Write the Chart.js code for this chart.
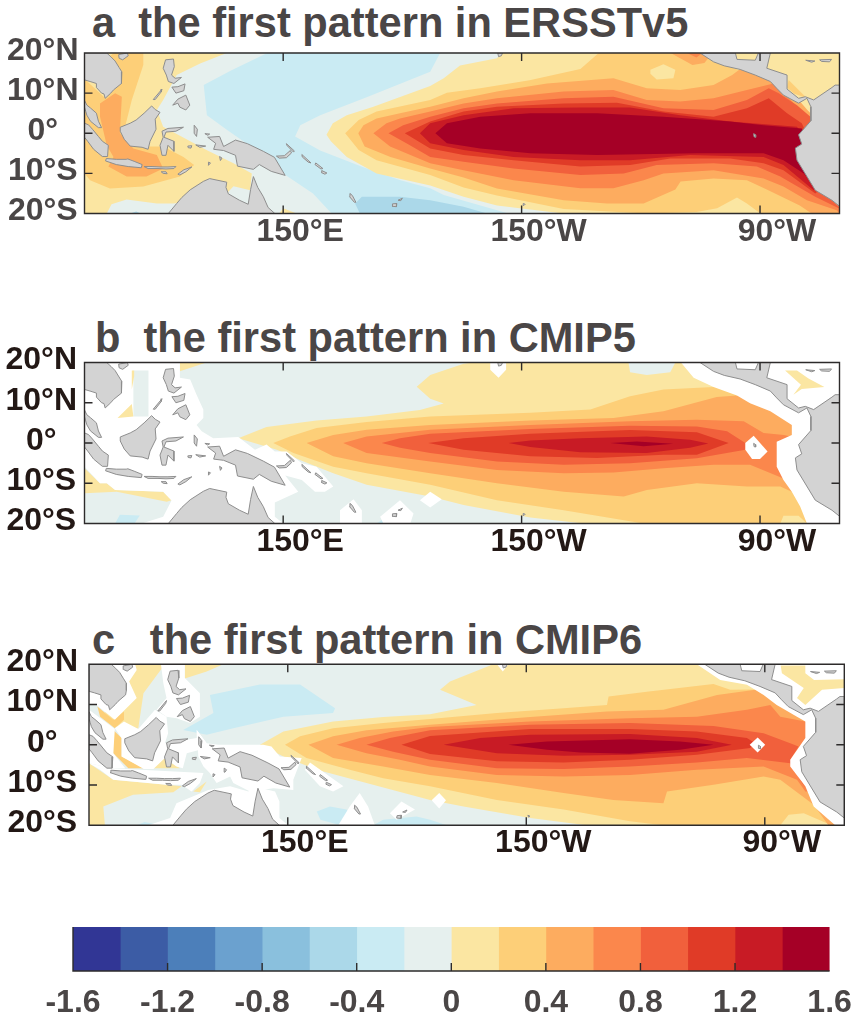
<!DOCTYPE html>
<html><head><meta charset="utf-8">
<style>
html,body{margin:0;padding:0;background:#fff;width:859px;height:1016px;overflow:hidden}
canvas{position:absolute;left:0}
.t{position:absolute;font:bold 41.6px/1 "Liberation Sans",Arial,sans-serif;color:#4a4646;white-space:pre}
</style>
<script src="https://cdn.jsdelivr.net/npm/chart.js@4"></script>
</head><body>
<div class="t" style="left:92px;top:2px">a  the first pattern in ERSSTv5</div>
<div class="t" style="left:95px;top:317px">b  the first pattern in CMIP5</div>
<div class="t" style="left:92px;top:619px">c   the first pattern in CMIP6</div>
<canvas id="ca" width="859" height="250" style="top:0"></canvas>
<canvas id="cb" width="859" height="250" style="top:310px"></canvas>
<canvas id="cc" width="859" height="250" style="top:610px"></canvas>
<canvas id="cbar" width="859" height="116" style="top:900px"></canvas>
<script>
// ---------- scales / ticks ----------
const lonTicks=[150,210,270];
const latTicks=[20,10,0,-10,-20];
const barEdges=[-1.6,-1.4,-1.2,-1,-0.8,-0.6,-0.4,-0.2,0,0.2,0.4,0.6,0.8,1,1.2,1.4,1.6];
const barColors=['#313695','#3c5ca5','#4c7fba','#6ba1cf','#8ac0dd','#abd8e9','#caebf3','#e6f0ee','#fbe6a2','#fdcf78','#fdac5f','#fb874c','#f1603c','#e03b27','#c81b25','#a50026'];
const [cM4,cM2,cM0,c0,c2,c4,c6,c8,c10,c12,c14]=barColors.slice(5);
const domain=[[100,20],[290,20],[290,-20],[100,-20]];

// ---------- land (lon, lat) ----------
const landIndochina=[[100,20],[105.6,20],[106.7,19],[107.7,18],[108.7,16.4],[109.4,15.3],[109.4,13.5],[109.2,12.4],[107.3,10.8],[106.6,10],[105.2,8.7],[104.9,9.8],[104.3,10],[103,11.4],[103,12.4],[101.4,12.9],[100,13.3]];
const landHainan=[[108.6,19.6],[110.8,20],[111,19.3],[109.6,18.3],[108.7,18.7]];
const landMalay=[[100,8.2],[100.6,7],[101.5,6.3],[103,5],[103.5,3],[104.3,1.4],[103.5,1.4],[101.5,3],[100.6,4.5],[100.3,5.5],[100,6.5]];
const landSumatra=[[100,2.5],[101,2.1],[102,1],[103.5,-0.8],[104.5,-2],[106,-3],[105.8,-5.8],[104.5,-5.8],[102.3,-4],[100.8,-2],[100,-1]];
const landJava=[[105.5,-6.3],[108,-6.5],[110.5,-6.5],[110.9,-6.4],[112.5,-7],[114.5,-7.8],[114.3,-8.6],[111,-8.3],[108,-7.8],[105.3,-6.9]];
const landLesser=[[115,-8.3],[117,-8.3],[119,-8.4],[121,-8.4],[123,-8.3],[122.5,-8.8],[120.5,-8.9],[118.5,-8.8],[116,-8.8]];
const landSumba=[[119.3,-9.6],[120.5,-9.6],[120.8,-10.1],[119.8,-10]];
const landTimor=[[123.5,-10.2],[125,-9.1],[127,-8.4],[125.5,-9.6],[124,-10.4]];
const landBorneo=[[109,1.5],[111.5,2.5],[113,3.3],[115,5],[116.9,6.8],[117.8,5.9],[119,5.2],[117.8,3.5],[118,1],[116.5,-2],[116,-4],[114.5,-3.5],[111.5,-3.2],[110,-1.5],[109,0.5]];
const landSulawesi=[[119.5,0.5],[121,1.2],[124.9,1.5],[123,0.5],[120.5,0.3],[120,-1],[122.5,-2],[122.5,-4.5],[121,-3],[120.5,-5.5],[119.5,-5.5],[119,-3],[119.8,-1]];
const landLuzon=[[120.4,18.3],[122.4,18.5],[122.6,16.6],[121.9,14.5],[122.8,13.7],[124.4,13.9],[122.5,12.4],[121.1,12.9],[120.6,14.5],[119.8,16.2]];
const landMindanao=[[122.2,7],[123.5,8.5],[125.5,9.5],[126.5,7],[125.5,5.8],[124,6.5],[123.5,7.5]];
const landVisayas=[[122,11.5],[123,10],[125,10.6],[125.3,12.3],[123.5,11.6]];
const landPalawan=[[117.3,8.4],[119.5,11],[119.3,10.3],[117.8,8.4]];
const landHalmahera=[[127.6,2],[128.4,1],[128.2,-0.8],[127.6,0]];
const landSeram=[[128,-2.9],[130.5,-3.2],[129,-3.5]];
const landBuru=[[126,-3.2],[127,-3.1],[126.8,-3.7],[126.1,-3.6]];
const landWaigeo=[[130.3,-0.1],[131.5,-0.2],[131,-0.5]];
const landTanimbar=[[131.2,-7.2],[131.7,-7.4],[131.2,-8]];
const landAru=[[134,-5.8],[134.6,-6.2],[134.2,-6.8]];
const landGuinea=[[131,-1],[134,-0.8],[135,-3.3],[138,-1.7],[141,-2.6],[145,-4.5],[147.8,-6],[150.5,-10.5],[147,-9.5],[144,-7.8],[142.5,-9],[138.5,-8.2],[138,-5.5],[135,-4.3],[132.5,-4],[133,-2.5]];
const landBritain=[[148.3,-5.7],[150.3,-5.6],[151.8,-4.3],[152.1,-4.9],[150.8,-6.1],[149,-6.2]];
const landIreland=[[150.8,-2.6],[152.8,-4.4],[152.6,-4.7],[151,-3.1]];
const landSolomon1=[[154.7,-5.3],[157,-7.4],[156.3,-7.2],[154.8,-5.9]];
const landSolomon2=[[158.2,-7.4],[160,-8.8],[159.5,-8.9],[158,-7.8]];
const landSolomon3=[[159.7,-9.3],[161,-9.9],[160.5,-10.2],[159.6,-9.8]];
const landVanuatu=[[166.8,-15],[167.4,-15.5],[168.3,-17.2],[167.9,-17.2],[166.7,-15.8]];
const landFiji=[[177.5,-17.6],[178.6,-17.5],[178.5,-18.3],[177.4,-18.2]];
const landFiji2=[[178.9,-16.7],[180,-16.2],[179.6,-16.8]];
const landAustralia=[[121.1,-20],[123.2,-17.5],[124.5,-16],[126.6,-14.1],[129.9,-12],[131.5,-11.3],[135.8,-12.2],[135.6,-13.5],[136.2,-15.1],[139,-16.7],[141.2,-17.7],[141.8,-14],[142.5,-10.8],[143.6,-13.5],[145,-15.8],[146.2,-18.5],[147.9,-20]];
const landAmericas=[[254.9,20],[258.3,17.8],[261,16.8],[265,15.9],[268.8,14.5],[272.6,12.9],[274.2,11.2],[275.9,9.5],[279.7,7.5],[281.8,8.7],[282.8,6.6],[282.8,3.1],[279.7,-0.4],[280.5,-2.7],[278.9,-3.7],[279.3,-6.7],[283.9,-14.2],[288.1,-16.7],[290,-18.2],[290,12],[288.9,12],[288.1,11.4],[283.5,8.3],[281.4,9.1],[279.7,8.7],[276.8,11],[276.8,14.5],[271.7,16.2],[272.6,20],[269.6,20],[268.8,18.2],[264.2,18.4],[263.8,20]];
const landCuba=[[281.5,18.2],[283.8,18],[283,17.7]];
const landHispaniola=[[285,18.3],[288,18.4],[287.5,17.8],[285.5,17.9]];
const landGalapagos=[[268.4,-0.1],[268.9,-0.4],[268.9,-1],[268.5,-0.9]];
const landHawaii=[[204,20],[205.2,20],[204.9,19.3],[204.2,19.1]];
const landTahiti=[[210.4,-17.5],[210.9,-17.7],[210.6,-18]];
const landAll=[landIndochina,landHainan,landMalay,landSumatra,landJava,landLesser,landSumba,landTimor,landBorneo,landSulawesi,landLuzon,landMindanao,landVisayas,landPalawan,landHalmahera,landSeram,landBuru,landWaigeo,landTanimbar,landAru,landGuinea,landBritain,landIreland,landSolomon1,landSolomon2,landSolomon3,landVanuatu,landFiji,landFiji2,landAustralia,landAmericas,landCuba,landHispaniola,landGalapagos,landHawaii,landTahiti];

// ---------- panel a: ERSSTv5 contours (lon, lat) ----------
const aM2=[[146,20],[137,15.7],[130,12],[130.8,4.5],[135.9,0.8],[144.3,-5],[150,-10],[157.5,-15],[162.2,-20],[206.7,-20],[197.9,-17.5],[190.4,-15.4],[187,-13.7],[179.5,-11.7],[170,-8.4],[159.3,-4.3],[153,-0.8],[154.3,2],[159.3,4.5],[171,9],[187,15.3],[189.5,20]];
const aM4a=[[168.1,-17.5],[169.8,-15.8],[179.4,-15.8],[187,-16.7],[195.4,-18.3],[201.3,-20],[169.3,-20]];
const aM4b=[[111.5,-20],[113,-19.5],[114.2,-20]];
const aY_west=[[100,20],[135.8,20],[129.1,17.4],[123.2,14.5],[119.8,8.3],[118.2,5.8],[119.8,1.6],[124.5,-0.9],[130.7,-4.2],[137.5,-7.5],[142.1,-10],[141.7,-14.2],[137.5,-13.2],[136.2,-14.6],[135.8,-16.7],[130.7,-16.7],[122.3,-17.5],[118.2,-17.5],[110.6,-16.5],[106.8,-17.7],[105.6,-20],[100,-20]];
const aY_aus=[[150,-18.7],[153.4,-20],[149,-20]];
const aY=[[160.9,-0.4],[162.5,2.5],[166,4.5],[172.7,6.6],[187,11.8],[190.4,13.7],[194.5,16.9],[203.8,18.7],[205,20],[290,20],[290,-20],[220.5,-20],[203.8,-18],[195.4,-15.8],[187,-13],[173.5,-10],[166,-5.9],[162,-2]];
const aL2_west=[[107.3,20],[114.8,20],[114.8,17],[111.9,8.3],[109.8,0],[112.3,-3.3],[119.8,-3.3],[124.9,-5.9],[127.6,-7.9],[124,-10.8],[114.8,-13.3],[106.4,-13.8],[101.4,-11.7],[100,-10],[100,13.5],[105,9],[105,18]];
const aL2=[[165.6,0],[169,3.3],[173.5,5.4],[187,8.3],[191.2,10.1],[199.6,11.2],[212,13.2],[224.8,16],[229.4,20],[255,20],[265,15.5],[274,10],[283,5],[288,-5],[290,-20],[270.1,-20],[266.7,-17.5],[264.2,-16],[259.2,-18.7],[254,-19.6],[241.5,-20],[220.6,-18.9],[203.8,-15.5],[195.4,-13.5],[187,-10.4],[173.5,-6.7],[169,-4.2]];
const aL2_carib=[[277.2,13.3],[281.8,8.7],[278.5,9.9],[276.8,11.4]];
const aY_patch=[[242.4,15.8],[245.7,17.2],[248.7,15.8],[248.2,13.7],[244,13.4],[242.4,14.8]];
const aL4_west=[[107.7,10],[109.4,9.1],[108.9,0],[112.3,-3.8],[118.2,-5.4],[119.8,-8.8],[115.6,-10.8],[110.6,-10.8],[106,-8.3],[107.3,-5.9],[105.6,-3],[103.9,4.1],[103.9,7.4]];
const aL4=[[168.9,0],[170.2,2],[173.5,3.7],[179.4,5],[187,6.6],[195.4,8.7],[203.8,10.4],[216.4,12.4],[233.1,13.7],[241.5,11.2],[249.9,10.8],[258.3,12],[263,14.5],[265,16],[272,13.5],[280,8],[287,0],[290,-20],[283,-20],[280,-18],[271.7,-14],[266.7,-11.7],[258.3,-11.3],[250,-12],[248.7,-14],[240.7,-17.5],[231.5,-17.5],[220.6,-16.7],[203.8,-13.8],[195.4,-11],[187,-8.8],[177,-5.9],[170.5,-3.3]];
const aL4_top=[[247.5,20],[253,17],[256,17.5],[258,20]];
const aL6_top=[[251.6,20],[254,18.9],[255.5,20]];
const aL6=[[172.7,0],[176,2.5],[179.4,3.7],[187,5.4],[195.4,7.4],[203.8,8.7],[220.6,10.4],[233.1,10.8],[241.5,8.3],[249.9,7.9],[258.3,8.7],[266.7,10.8],[273.4,12.4],[278,8],[285,0],[290,-18],[290,-20],[289.3,-19.2],[281.8,-16.7],[275.9,-13.3],[270.9,-11.3],[258.3,-9.2],[245.7,-10],[240.7,-11.7],[233.1,-13.7],[224.8,-13.7],[208,-11.7],[195.4,-9.2],[187,-7.5],[176.9,-3.3]];
const aL8=[[176.5,0],[180.2,2],[187,4.1],[195.4,6.2],[203.8,7.4],[220.6,8.7],[233.1,9.1],[245.7,6.2],[258.3,5.8],[266.7,8.3],[272.2,11.2],[274.7,10],[279.3,7],[284,3],[285,-14],[290,-18.5],[289.8,-18.7],[283.9,-15.8],[275.1,-10.8],[269.2,-8.3],[258.3,-7.5],[244,-7.9],[235.7,-10],[224.8,-10.4],[208,-8.8],[195.4,-7.1],[187,-5.9],[181.9,-3]];
const aL10=[[180.6,0],[187,2.9],[195.4,5.4],[203.8,6.6],[220.6,7.4],[234,7.6],[245.7,5.4],[258.3,4.1],[266.7,6.2],[272.2,8.7],[276.8,5],[280.5,2.5],[284,-5],[284.5,-14.5],[283.9,-15],[275.9,-9.2],[270.9,-7.5],[262.5,-6.3],[247.4,-6.3],[237.3,-7.9],[224.8,-8.3],[208,-6.7],[195.4,-5.4],[187,-3.8]];
const aL12=[[184.4,0],[187,2.5],[195.4,4.5],[208,6.2],[224.8,6.4],[237.3,6.4],[249.9,4.5],[262.5,2.9],[279.3,1.6],[284,-5],[284,-14],[283.5,-14.2],[275.9,-7.9],[270.9,-5.9],[252.4,-5.4],[237.3,-6.7],[224.8,-6.7],[208,-5.9],[195.4,-4.2],[187,-2.5]];
const aL14=[[188.3,0],[191.2,2.5],[199.6,4.1],[212.2,5],[229,5],[245.7,4.1],[262.5,2.9],[270.9,2],[280.5,1.2],[284,-5],[284,-14.5],[283.5,-12.9],[281,-10],[275.9,-6.7],[270.9,-5],[254.1,-5],[229,-5.4],[212.2,-5],[199.6,-3.8],[191.2,-2.5]];

// ---------- panel b: CMIP5 contours ----------
const bY=[[138.7,1.2],[145.8,4],[158.4,5.6],[171,6.6],[184.4,8.2],[190.4,9.8],[187,11],[183.6,14],[187,16.9],[195.4,19.7],[197.9,20],[290,20],[290,-20],[225.6,-20],[212.2,-18.5],[195.4,-15.4],[187,-13.3],[171,-10.4],[162.6,-7.5],[154.2,-4.2],[148.4,-1.7]];
const bM0_top=[[236.9,20],[237.3,17.6],[241.5,16.9],[247.4,17.6],[248.7,20]];
const bL2=[[147.5,0],[151.7,1.6],[158.4,3.7],[171,5.2],[187,6.6],[212.2,7.5],[227.3,8.3],[237.3,11.6],[245.7,13.3],[258.3,13.9],[290,14],[290,-20],[281.8,-20],[279.7,-18.1],[275.9,-18.1],[275.1,-20],[240.7,-20],[220.6,-16.7],[203.8,-14.2],[187,-10.4],[171,-7.5],[162.6,-5.9],[152.6,-2.5]];
const bL4=[[155.9,0],[162.6,2],[171,3.3],[187,4.5],[212.2,5.6],[233.1,6.2],[245.7,7.9],[259.1,11.4],[264.2,11.8],[285,12],[290,-12],[278,-12.1],[275.1,-10.8],[266.7,-10.8],[254.1,-10],[241.5,-11.7],[235.7,-13.3],[220.6,-12.1],[203.8,-10],[187,-7.5],[171,-5],[162.6,-3.3]];
const bL6=[[165.1,0],[171,1.6],[187,3.3],[212.2,4.5],[237.3,5.4],[254.1,5.8],[265.9,5.4],[270.9,2.5],[276,2],[285,0],[285,-9],[275.9,-8.8],[267.5,-5.4],[258.3,-5.4],[245.7,-6.3],[233.1,-7.3],[220.6,-7.5],[203.8,-6.7],[187,-4.6],[171,-2.5]];
const bL8=[[174.8,0],[179.4,1.2],[187,2.3],[212.2,3.5],[237.3,4.3],[254.1,4.1],[261.7,2.9],[266.3,0],[266.3,-1.7],[254.1,-3.8],[237.3,-5],[220.6,-5.4],[203.8,-4.6],[187,-2.5],[179.4,-1.2]];
const bL10=[[186.5,0],[195.4,1.2],[212.2,2.3],[237.3,3.2],[254.1,2.7],[262.1,0],[254.1,-2.9],[245.7,-2.9],[229,-3.7],[212.2,-3.3],[195.4,-1.7]];
const bL12=[[206.7,0],[212.2,0.6],[224.8,1.2],[241.5,1.6],[252.4,0.8],[257,-0.1],[252.4,-1.2],[241.5,-2.5],[224.8,-2.3],[212.2,-1]];
const bL14=[[232.3,0],[239,0.4],[248.2,-0.2],[240.7,-0.8]];
const bM2a=[[107.7,-20],[108.9,-17.8],[113.9,-18],[112.6,-20]];
const bM2b=[[173.5,-20],[175,-19],[176,-20]];
const bY_top=[[124,20],[130.7,20],[124,17.8]];
const bY_sw=[[100,-6.3],[100,-12.5],[108.1,-12.1],[120.7,-14.6],[121.9,-14.2],[119.8,-12.1],[107.7,-11.7],[105.6,-10],[103.9,-10]];
const bMaskWest=[[100,20],[124,20],[124,16.2],[126.6,15.8],[128.2,12],[129.9,8.3],[129.9,6.2],[128.2,4.5],[129.5,2.9],[132.4,1.2],[138.7,1.5],[142.9,-1.7],[145.8,-0.4],[147.9,-2.1],[150.9,-2.1],[154.7,-5],[158.4,-5.9],[162.6,-10.8],[160.5,-12.1],[158,-12.1],[154.7,-9.2],[150.5,-8.1],[153.8,-12.1],[147.9,-14.8],[147.9,-18.3],[150,-20],[114.4,-20],[119.8,-18.3],[121.9,-14.3],[119.8,-12.1],[107.7,-11.7],[105.6,-10],[103.9,-10],[100,-5.9]];
const bMaskVanuatu=[[164.3,-16.7],[167.7,-14],[169.8,-16.7],[169.8,-20],[164.3,-20]];
const bMaskFiji=[[174.4,-18.3],[179.4,-14.2],[182.8,-17.5],[182,-20],[175.2,-20]];
const bMaskSamoa=[[184.4,-14.2],[187,-12.1],[189.9,-14],[187,-16]];
const bMaskHawaii=[[202.1,20],[206.1,20],[206.1,18.2],[204.2,16.2],[202.1,18.2]];
const bMaskGalapagos=[[266.3,0],[268.4,1.8],[271.9,-2.1],[270,-4],[268,-4],[266.3,-1.7]];
const bMaskEast=[[250.1,20],[253.3,16.2],[258.3,13.9],[264.2,11.8],[267.5,9.9],[272.6,7.9],[278,4.5],[278,2],[274.2,0.3],[274.2,-5.9],[275.9,-9.2],[278,-12.1],[280.1,-15.8],[281.8,-20],[290,-20],[290,20]];
const bAfterE6=[[112.3,18],[116.1,18],[116.1,6.6],[112.3,6.6]];
const bAfterY1=[[111.9,18],[112.5,18],[112.5,16.6],[111.9,13.3]];
const bAfterY2=[[106,4],[111.9,9.7],[112.3,6.6],[108.3,6.2]];
const bAfterCarib=[[276.3,18],[279.3,18],[282.2,16],[286.2,13.9],[280.5,13.4],[278.4,12],[280.3,14.5]];

// ---------- panel c: CMIP6 contours ----------
const cMblue=[[130.4,12.4],[143,15],[153.1,15],[161.9,9.1],[161.4,7.9],[148.9,7],[136.3,4.1],[129.6,2.5],[123.7,3.7],[131.3,7.9]];
const cMb1=[[157.3,-16.6],[160.6,-15.3],[164.8,-16.1],[166.5,-19.5],[163.3,-20],[158.2,-18.6]];
const cMb2=[[171.5,-20],[174,-18.6],[182.4,-17.8],[185.8,-18.6],[190,-20]];
const cMb3=[[112,-20],[114,-19.2],[117,-19.8]];
const cY=[[143,0],[148.9,3.3],[161.4,5.8],[174,6.9],[185.8,7.6],[197.5,9.9],[188.3,13.7],[190.8,15.7],[200.9,19.7],[201.3,20],[290,20],[290,-20],[225.2,-20],[211,-18.2],[194.2,-15.3],[185.8,-13.7],[169.8,-9.5],[157.3,-6.2],[148.9,-2.9]];
const cL2=[[149.3,0],[153.1,2.1],[161.4,4.1],[174,5.4],[185.8,6.4],[202.6,7.9],[219.4,9.1],[230.3,9.9],[230.7,12],[240.3,13.2],[257.1,15.1],[261.3,13.7],[290,14],[290,-20],[285.6,-19.5],[279.8,-17],[276,-17.4],[273.9,-20],[244.5,-20],[236.1,-19],[219.4,-16.1],[202.6,-13.7],[185.8,-10.3],[174,-8.3],[165.6,-6.2],[154.7,-3.3]];
const cL4=[[155.2,0],[161.4,2.1],[169.8,3.6],[185.8,5],[211,6.9],[230.3,8.3],[244.5,8.7],[258,12.4],[267.6,13.7],[290,14],[290,-20],[286,-20],[282.3,-14.9],[273.9,-8.7],[269.7,-7.9],[257.1,-9.9],[245.4,-11.6],[244.5,-14.5],[231.9,-13.7],[219.4,-12],[202.6,-9.5],[185.8,-7.5],[174,-5.4],[161.4,-3.3]];
const cL6=[[162.3,0],[168.1,1.7],[176.5,3.3],[185.8,4.4],[211,5.8],[236.1,6.6],[252.9,7],[265.5,8.7],[271.4,9.9],[273.9,7],[280.2,5.8],[285,0],[285,-12],[280.2,-11.6],[278.1,-8.7],[269.7,-5.4],[252.9,-6.2],[236.1,-7.5],[219.4,-7.9],[202.6,-7.5],[185.8,-5.4],[178.2,-3.7],[169.8,-2.1]];
const cL8=[[169.8,0],[175.7,1.7],[185.8,3.6],[211,5],[236.1,5.4],[257.1,4.7],[269.7,2.9],[276.4,0.4],[278.5,-0.4],[276.4,-3.7],[280.2,-10.8],[276.4,-4.6],[265.5,-3.3],[252.9,-4.4],[236.1,-5.4],[219.4,-6],[202.6,-5.8],[185.8,-3.7],[176.5,-1.7]];
const cL10=[[178.6,0],[185.8,2.2],[211,3.9],[236.1,3.9],[252.9,3.3],[265.5,1.7],[267.6,0.4],[266.3,-0.8],[252.9,-2.5],[236.1,-3.7],[219.4,-4.4],[202.6,-4.1],[185.8,-2.3]];
const cL12=[[189.2,0],[198.4,1.7],[211,2.5],[236.1,2.7],[252.9,1.7],[261.7,0],[252.9,-1.7],[236.1,-2.5],[219.4,-2.7],[202.6,-2.1]];
const cL14=[[205.5,0],[215.2,0.8],[236.1,1.4],[248.7,0.8],[257.1,0],[248.7,-1.2],[236.1,-2.2],[223.6,-1.9],[215.2,-1.2]];
const cY_w1=[[111.1,20],[119.1,20],[113.7,12.8],[112.4,4.1],[108,3],[106,6],[104,8],[109,12]];
const cL2_a=[[102.1,9.5],[106.1,6.2],[108.8,8.3],[108.8,6.2],[106.5,4.1],[102.8,7]];
const cL2_b=[[106.1,3.7],[108.2,1.7],[108.2,-2.9],[113.8,-5.8],[109.9,-5.8],[106.1,-2.1]];
const cY_small=[[116.2,-5.8],[118.7,-3.3],[122.9,-5.8]];
const cY_sw=[[100,-4.6],[106.1,-8.7],[119.5,-9.9],[123.3,-10.3],[121.2,-11.8],[111.1,-12.4],[103.6,-15.3],[104,-20],[100,-20]];
const cY_timor=[[126.2,-11.6],[129.6,-9.1],[127.9,-11.8]];
const cY_top=[[124.1,20],[133.8,20],[129.6,18.2],[124.1,16.5]];
const cMask1=[[100,20],[111.6,20],[112,18.6],[110.1,15.7],[112,11.6],[106.5,6.2],[101.9,9.9],[100,9.9]];
const cMask2=[[100,8.7],[106.5,3.9],[106.1,-2.1],[109.1,-5.8],[105.7,-5.8],[100,-4.6]];
const cMask3=[[108.8,5.8],[112.4,3.9],[116.6,8.7],[119.5,7],[119.9,2.9],[119.1,0.4],[127.1,1.7],[127.1,3.7],[129.6,0.4],[127.9,-1.2],[124.6,-2.1],[123.6,-5.8],[122,-5.4],[119.1,-3.3],[116.2,-6],[113.8,-6],[108.2,-2.9],[108.2,1.7],[106.5,4.1]];
const cMask4=[[118.1,20],[124.1,19.9],[124.1,16.6],[127.9,12.8],[127.9,7],[125.4,5.4],[122,6.6],[119.5,7],[117,8.7],[119.5,11.6],[118.7,15.3]];
const cMask5=[[105.7,-5.8],[128.8,-7],[127.9,-9.5],[125.8,-11.6],[123.3,-9.9],[119.5,-9.9],[106.1,-8.7],[102.8,-6.2],[100,-4.6]];
const cMask6=[[114.9,-20],[120.4,-18.2],[122,-14.5],[130,-11.2],[135.5,-10.3],[140.1,-11.6],[141.3,-10.3],[146.8,-11.6],[147.9,-14.1],[147.9,-18.2],[150.1,-20]];
const cMask7=[[127.1,3.7],[129.6,0.4],[132.5,0],[143.8,0],[145.9,-0.4],[148,-2.9],[153.5,-3.3],[151.4,-8.7],[151.4,-11.2],[146.4,-10.8],[140.5,-11.6],[136.3,-9.5],[135.5,-7.9],[132.1,-9.5],[130.4,-7],[128.8,-5.4],[127.5,-2.9]];
const cMask8=[[155.6,-4.4],[164,-10.3],[161.4,-11.6],[158.1,-10.3],[154.3,-6.2]];
const cMaskVanuatu=[[165.6,-15.3],[168.1,-12],[170.2,-15.3],[171.9,-20],[162.7,-20]];
const cMaskFiji=[[175.7,-17],[178.6,-14.1],[182,-16.1],[177.4,-18.6]];
const cMaskSamoa=[[186.2,-13.8],[188.1,-12],[189.8,-13.8],[188.1,-15.8]];
const cMaskHawaii=[[202.6,20],[205.5,20],[204.1,18.2]];
const cMaskGalapagos=[[266.2,0],[268.2,1.8],[270.1,0],[268.2,-1.9]];
const cMaskEast=[[252.9,20],[258.8,16.1],[265.5,14.9],[269.7,12.4],[273,9.9],[278.1,7],[280.2,5.8],[280.2,1.7],[276.4,-3.7],[276.4,-5.4],[280.2,-10.3],[282.3,-15.3],[287.7,-20],[290,-20],[290,20]];
const cAfterCarib=[[274,19.7],[280.2,19.7],[280.2,17.8],[282.4,16.1],[290,16.3],[290,14.1],[284.4,13.7],[280.2,9.9],[278.1,11.6],[279.8,14.1],[274.3,17.8]];

// ---------- layer order per panel (bottom to top) ----------
const W='#ffffff';
const layersA=[[cM0,domain],[cM2,aM2],[cM4,aM4a],[cM4,aM4b],[c0,aY_west],[c0,aY_aus],[c0,aY],[c2,aL2_west],[c2,aL2],[c2,aL2_carib],[c0,aY_patch],[c4,aL4_west],[c4,aL4],[c4,aL4_top],[c6,aL6_top],[c6,aL6],[c8,aL8],[c10,aL10],[c12,aL12],[c14,aL14]];
const layersB=[[cM0,domain],[cM2,bM2a],[cM2,bM2b],[c0,bY],[cM0,bM0_top],[c0,bY_top],[c0,bY_sw],[c2,bL2],[c4,bL4],[c6,bL6],[c8,bL8],[c10,bL10],[c12,bL12],[c14,bL14],
 [W,bMaskWest],[W,bMaskVanuatu],[W,bMaskFiji],[W,bMaskSamoa],[W,bMaskHawaii],[W,bMaskGalapagos],[W,bMaskEast],[cM0,bAfterE6],[c0,bAfterY1],[c0,bAfterY2],[c0,bAfterCarib]];
const layersC=[[cM0,domain],[cM2,cMblue],[cM2,cMb1],[cM2,cMb2],[cM2,cMb3],[c0,cY],[c0,cY_w1],[c2,cL2_a],[c2,cL2_b],[c0,cY_small],[c0,cY_sw],[c0,cY_timor],[c0,cY_top],[c2,cL2],[c4,cL4],[c6,cL6],[c8,cL8],[c10,cL10],[c12,cL12],[c14,cL14],
 [W,cMask1],[W,cMask2],[W,cMask3],[W,cMask4],[W,cMask5],[W,cMask6],[W,cMask7],[W,cMask8],[W,cMaskVanuatu],[W,cMaskFiji],[W,cMaskSamoa],[W,cMaskHawaii],[W,cMaskGalapagos],[W,cMaskEast],[c0,cAfterCarib]];

// ---------- helpers ----------
const poly=(pts,fillC,lineC,order)=>({
  type:'scatter',showLine:true,fill:'shape',tension:0,pointRadius:0,pointHoverRadius:0,
  backgroundColor:fillC,borderColor:lineC||fillC,borderWidth:lineC?1:0,order,
  data:pts.concat([pts[0]]).map(p=>({x:p[0],y:p[1]}))
});
const frame={id:'frame',afterDatasetsDraw(ch){
  const {ctx,chartArea:a,scales:{x,y}}=ch, o=ch.options.plugins.frame, L=8;
  ctx.save();ctx.strokeStyle='#2d2b2b';ctx.lineWidth=1.4;
  ctx.beginPath();
  (o.xt||[]).forEach(v=>{const p=x.getPixelForValue(v);ctx.moveTo(p,a.bottom);ctx.lineTo(p,a.bottom-L);if(!o.bar){ctx.moveTo(p,a.top);ctx.lineTo(p,a.top+L);}});
  (o.yt||[]).forEach(v=>{const p=y.getPixelForValue(v);ctx.moveTo(a.left,p);ctx.lineTo(a.left+L,p);ctx.moveTo(a.right,p);ctx.lineTo(a.right-L,p);});
  if(o.bar){ctx.moveTo(a.left,a.top);ctx.lineTo(a.left,a.bottom);ctx.lineTo(a.right,a.bottom);}
  else ctx.rect(a.left,a.top,a.right-a.left,a.bottom-a.top);
  ctx.stroke();ctx.restore();
}};
function mapChart(id,layers,area,txt){
  const all=layers.map(l=>poly(l[1],l[0]));
  landAll.forEach(p=>all.push(poly(p,'#d3d3d3','#8e8e8e')));
  const n=all.length; all.forEach((d,i)=>d.order=n-i);
  const font={family:'"Liberation Sans",Arial,sans-serif',weight:'bold',size:32};
  new Chart(document.getElementById(id),{
    type:'scatter',plugins:[frame],
    data:{datasets:all},
    options:{responsive:false,animation:false,events:[],devicePixelRatio:1,
      layout:{padding:{top:area.top,right:859-area.right,left:0,bottom:0}},
      plugins:{legend:{display:false},tooltip:{enabled:false},frame:{xt:lonTicks,yt:[10,0,-10]}},
      scales:{
        x:{type:'linear',min:100,max:290,grid:{display:false,drawTicks:false},border:{display:false},
           afterBuildTicks:s=>{s.ticks=lonTicks.map(v=>({value:v}));},
           afterFit:s=>{s.height=250-area.bottom;s.paddingLeft=0;s.paddingRight=0;},
           ticks:{color:txt,font,padding:-1,labelOffset:17,maxRotation:0,autoSkip:false,
             callback:v=>v<=180?v+'°E':(360-v)+'°W'}},
        y:{type:'linear',min:-20,max:20,grid:{display:false,drawTicks:false},border:{display:false},
           afterBuildTicks:s=>{s.ticks=latTicks.map(v=>({value:v}));},
           afterFit:s=>{s.width=area.left;s.paddingTop=0;s.paddingBottom=0;},
           ticks:{color:txt,font,padding:area.pad,labelOffset:-2,crossAlign:'center',autoSkip:false,
             callback:v=>v===0?'0°':Math.abs(v)+'°'+(v>0?'N':'S')}}
      }}
  });
}
mapChart('ca',layersA,{left:84.5,right:839.5,top:53,bottom:213.5,pad:6},'#4a4646');
mapChart('cb',layersB,{left:84.5,right:839.5,top:52.5,bottom:213.5,pad:7.5},'#231815');
mapChart('cc',layersC,{left:89,right:844.3,top:54.3,bottom:215.3,pad:11},'#231815');

// ---------- colour bar ----------
new Chart(document.getElementById('cbar'),{
  type:'bar',plugins:[frame],
  data:{labels:['scale'],datasets:barColors.map((c,i)=>({data:[[barEdges[i],barEdges[i+1]]],backgroundColor:c,borderWidth:0,borderSkipped:false}))},
  options:{indexAxis:'y',responsive:false,animation:false,events:[],devicePixelRatio:1,
    layout:{padding:{top:27,right:29.4,left:73,bottom:0}},
    datasets:{bar:{grouped:false,barPercentage:1,categoryPercentage:1}},
    plugins:{legend:{display:false},tooltip:{enabled:false},frame:{bar:true,xt:[-1.2,-0.8,-0.4,0,0.4,0.8,1.2]}},
    scales:{
      y:{display:false,type:'category'},
      x:{type:'linear',min:-1.6,max:1.6,grid:{display:false,drawTicks:false},border:{display:false},
         afterFit:s=>{s.height=45;s.paddingLeft=0;s.paddingRight=0;},
         ticks:{stepSize:0.4,color:'#4a4646',padding:13,maxRotation:0,autoSkip:false,
           font:{family:'"Liberation Sans",Arial,sans-serif',weight:'bold',size:32},
           callback:v=>Math.abs(v)<1e-6?'0':v.toFixed(1)}}
    }}
});
</script>
</body></html>
